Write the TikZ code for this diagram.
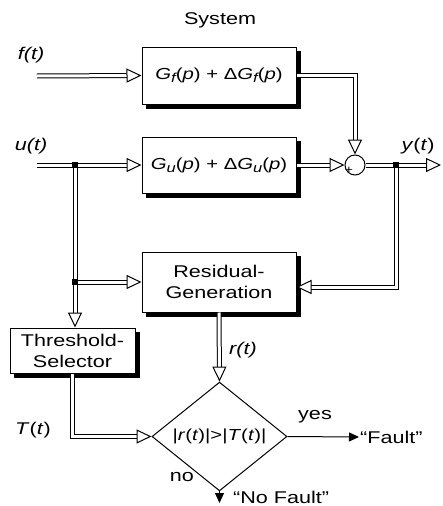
\documentclass[tikz,border=0pt]{standalone}
\usepackage{fontspec}
\setmainfont{Liberation Sans}[FakeStretch=1.27]
\usepackage{tikz}
\usetikzlibrary{shapes.geometric, arrows.meta, positioning, calc}

\newcommand{\Gsub}[1]{\textit{G}\raisebox{-3pt}{\fontsize{13}{13}\selectfont\itshape #1}}

\begin{document}
\begin{tikzpicture}[x=1pt, y=-1pt,
        every node/.style={font=\fontsize{17}{21}\selectfont},
        block/.style={rectangle, draw=black, line width=1pt, fill=white, align=center, inner sep=0pt},
        shadebox/.style={rectangle, fill=black, inner sep=0pt},
        test/.style={diamond, draw=black, line width=1pt, fill=white, inner sep=0pt,
            minimum width=135pt, minimum height=59pt, font=\fontsize{16}{19}\selectfont},
        sumnode/.style={circle, draw=black, line width=1pt, fill=white, minimum size=20pt, inner sep=0pt},
        dbl/.style={draw=black, line width=1pt, double=white, double distance=3pt,
            -{Triangle[open, length=15pt, width=14pt, fill=white]}},
        sgl/.style={draw=black, line width=1pt, -{Triangle[length=10pt, width=9pt]}},
        joint/.style={rectangle, fill=black, minimum size=5.5pt, inner sep=0pt}
    ]
    \useasboundingbox (0,0) rectangle (442,506);

    % Shadows behind the blocks
    \node[shadebox, minimum width=155pt, minimum height=58pt] (gfshade) at (223.5,80) {};
    \node[shadebox, minimum width=155pt, minimum height=57pt] (gushade) at (223.5,169.5) {};
    \node[shadebox, minimum width=155pt, minimum height=61pt] (residshade) at (223.5,286.5) {};
    \node[shadebox, minimum width=126pt, minimum height=46pt] (threshshade) at (77,355) {};

    % System blocks
    \node (system) at (220,20) {System};
    \node[block, minimum width=154pt, minimum height=57pt, font=\fontsize{16}{19}\selectfont] (gf) at (219,75.5)
        {\Gsub{f}(\textit{p}) + Δ\Gsub{f}(\textit{p})};
    \node[block, minimum width=154pt, minimum height=56pt, font=\fontsize{16}{19}\selectfont] (gu) at (219,165)
        {\Gsub{u}(\textit{p}) + Δ\Gsub{u}(\textit{p})};
    \node[sumnode] (sum) at (355,165) {};
    \node[font=\fontsize{11}{11}\selectfont, inner sep=0pt] (plus) at (349,170) {+};

    % Signals
    \node (flabel) at (31,55) {\textit{f(t)}};
    \node (ulabel) at (31,146) {\textit{u(t)}};
    \node (ylabel) at (418,146) {\textit{y}(\textit{t})};
    \coordinate (fin) at (37,76);
    \coordinate (uin) at (37,165);
    \coordinate (yout) at (441,165);
    \coordinate (ujoin) at (75,165);
    \coordinate (yjoin) at (396,165);

    % Diagnosis blocks
    \node[block, minimum width=154pt, minimum height=60pt] (resid) at (219,282) {Residual-\\Generation};
    \node[block, minimum width=125pt, minimum height=45pt] (thresh) at (72.5,350.5) {Threshold-\\Selector};
    \node[test] (cmp) at (219.5,436.5) {|\textit{r}(\textit{t})|>|\textit{T}(\textit{t})|};
    \coordinate (rjoin) at (ujoin |- resid.west);

    \node (rlabel) at (243,350) {\textit{r(t)}};
    \node (tlabel) at (33,430) {\textit{T}(\textit{t})};
    \node (yes) at (315,417) {yes};
    \node (no) at (182,477) {no};
    \node[anchor=west, inner sep=1pt] (fault) at (359,437) {“Fault”};
    \node[anchor=west, inner sep=1pt] (nofault) at (232,497) {“No Fault”};
    \coordinate (nfend) at (cmp.south |- 0,503);

    % System connections
    \draw[dbl] (fin) -- (gf.west);
    \draw[dbl] (gf.east) -| (sum.north);
    \draw[dbl] (uin) -- (gu.west);
    \draw[dbl] (gu.east) -- (sum.west);
    \draw[dbl] (sum.east) -- (yout);

    % Residual and threshold connections
    \draw[dbl] (ujoin) -- (ujoin |- thresh.north);
    \draw[dbl] (rjoin) -- (resid.west);
    \draw[dbl] (yjoin) |- ([yshift=-5pt]resid.east);
    \draw[dbl] (resid.south) -- (cmp.north);
    \draw[dbl] (thresh.south) |- (cmp.west);

    % Decision
    \draw[sgl] (cmp.east) -- (fault.west);
    \draw[sgl] (cmp.south) -- (nfend);

    % Branch points
    \node[joint] (ujoint) at (ujoin) {};
    \node[joint] (rjoint) at (rjoin) {};
    \node[joint] (yjoint) at (yjoin) {};
\end{tikzpicture}
\end{document}
